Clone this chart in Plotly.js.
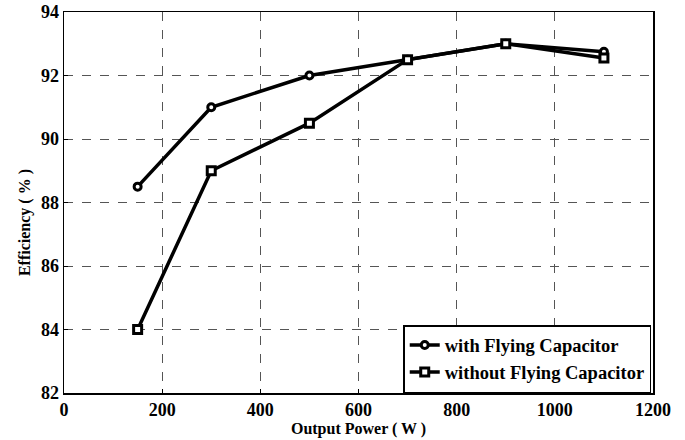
<!DOCTYPE html>
<html>
<head>
<meta charset="utf-8">
<script src="https://cdn.plot.ly/plotly-3.0.1.min.js"></script>
<style>html,body{margin:0;padding:0;background:#fff;}#chart{width:685px;height:440px;}</style>
</head>
<body>
<div id="chart"></div>
<script>
const powerW = [150, 300, 500, 700, 900, 1100];
const effWith = [88.5, 91.0, 92.0, 92.5, 93.0, 92.75];
const effWithout = [84.0, 89.0, 90.5, 92.5, 93.0, 92.55];
const xTicks = [0, 200, 400, 600, 800, 1000, 1200];
const yTicks = [82, 84, 86, 88, 90, 92, 94];

const font = "'Liberation Serif', 'Times New Roman', Times, serif";
const traces = [
  {x: powerW, y: effWith, name: '<b>with Flying Capacitor</b>', mode: 'lines+markers',
   line: {color: '#000', width: 3.5},
   marker: {symbol: 'circle', size: 7, color: '#fff', line: {color: '#000', width: 3}}},
  {x: powerW, y: effWithout, name: '<b>without Flying Capacitor</b>', mode: 'lines+markers',
   line: {color: '#000', width: 3.5},
   marker: {symbol: 'square', size: 8, color: '#fff', line: {color: '#000', width: 3}}}
];
const axisCommon = {
  showline: true, mirror: true, linecolor: '#000', linewidth: 1.5,
  ticks: 'inside', ticklen: 4, tickcolor: '#000',
  showgrid: true, gridcolor: '#555', griddash: 'dash', gridwidth: 1,
  zeroline: false,
  tickfont: {family: font, size: 18, color: '#000'}
};
const layout = {
  width: 685, height: 440,
  margin: {l: 64, r: 32, t: 12, b: 47},
  paper_bgcolor: '#fff', plot_bgcolor: '#fff',
  font: {family: font},
  showlegend: true,
  legend: {x: 0.997, y: 0, xanchor: 'right', yanchor: 'bottom', bgcolor: '#fff',
    bordercolor: '#000', borderwidth: 1.5,
    font: {family: font, size: 18.5, color: '#000'}, tracegroupgap: 0},
  xaxis: Object.assign({}, axisCommon, {range: [0, 1200], tickvals: xTicks,
    ticktext: xTicks.map(v => '<b>' + v + '</b>'),
    title: {text: '<b>Output Power ( W )</b>', font: {family: font, size: 16, color: '#000'}, standoff: 2}}),
  yaxis: Object.assign({}, axisCommon, {range: [82, 94], tickvals: yTicks,
    ticktext: yTicks.map(v => '<b>' + v + '</b>')}),
  annotations: [{
    text: '<b>Efficiency ( % )</b>', textangle: -90, showarrow: false,
    xref: 'paper', yref: 'paper', x: 0, y: 0.446, xanchor: 'center', yanchor: 'middle',
    xshift: -39, font: {family: font, size: 16, color: '#000'}
  }]
};
Plotly.newPlot('chart', traces, layout, {displayModeBar: false, staticPlot: true});
</script>
</body>
</html>
